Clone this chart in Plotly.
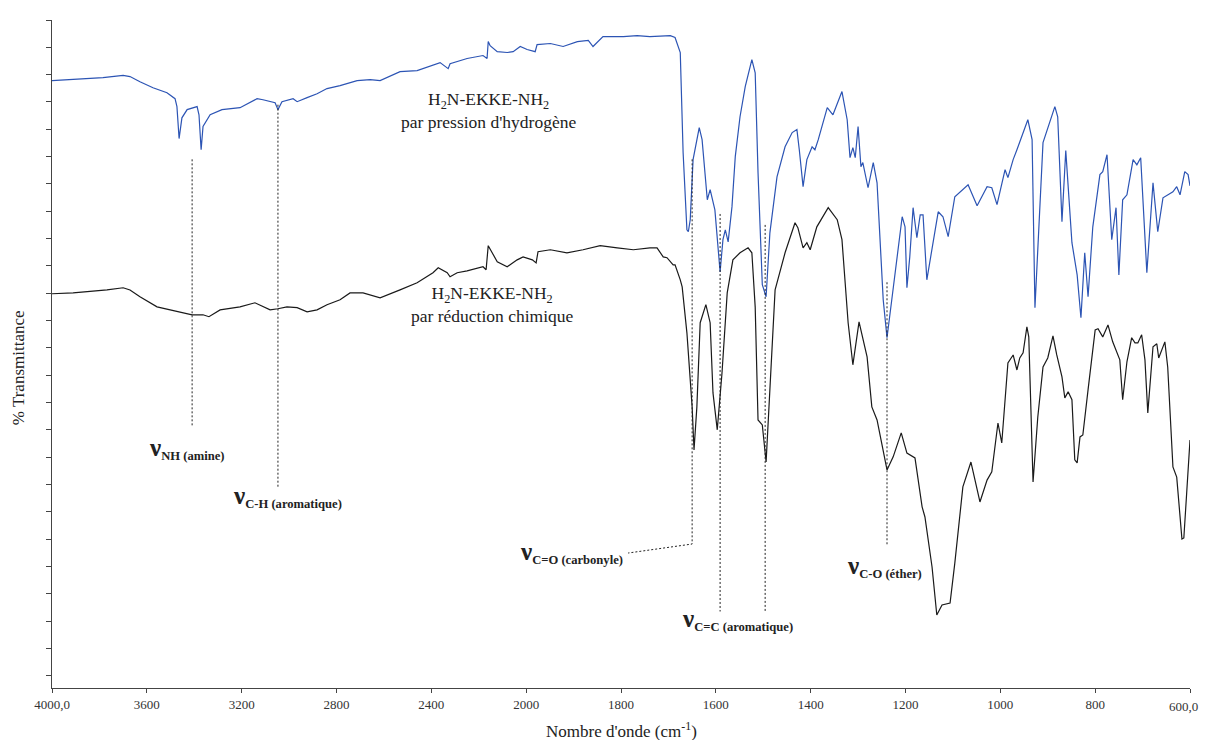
import numpy as np
import plotly.graph_objects as go

# ---------------- data (wavenumber cm-1, arbitrary %T units) ----------------
blue_wn = [4000, 3911, 3840, 3785, 3700, 3671, 3629, 3574, 3515, 3481, 3473, 3464, 3452, 3430, 3388,
           3380, 3371, 3363, 3333, 3283, 3207, 3135, 3110, 3080, 3059, 3047, 3030, 2983, 2966, 2924,
           2882, 2840, 2785, 2713, 2658, 2616, 2532, 2460, 2363, 2329, 2321, 2249, 2182, 2165, 2160,
           2152, 2122, 2080, 2055, 2025, 1998, 1981, 1977, 1949, 1922, 1892, 1869, 1859, 1838, 1795,
           1766, 1739, 1696, 1686, 1675, 1669, 1661, 1658, 1654, 1648, 1635, 1629, 1618, 1612, 1602,
           1591, 1585, 1580, 1574, 1566, 1559, 1549, 1538, 1524, 1517, 1511, 1502, 1494, 1486, 1471,
           1454, 1439, 1429, 1424, 1416, 1408, 1397, 1391, 1384, 1365, 1353, 1334, 1323, 1317, 1311,
           1306, 1300, 1294, 1290, 1279, 1268, 1260, 1247, 1239, 1226, 1207, 1201, 1197, 1191, 1184,
           1176, 1169, 1163, 1155, 1131, 1121, 1110, 1096, 1068, 1049, 1028, 1018, 1007, 990, 984,
           973, 965, 942, 933, 927, 910, 885, 879, 870, 862, 849, 838, 830, 822, 815, 805, 790, 784,
           775, 765, 756, 750, 742, 733, 720, 712, 704, 691, 678, 668, 657, 636, 628, 621, 611, 604, 600]
blue_T = [21.78, 21.82, 21.85, 21.89, 21.97, 21.93, 21.74, 21.52, 21.34, 21.12, 20.83, 19.66, 20.42, 20.72, 20.83,
          20.53, 19.25, 20.10, 20.53, 20.72, 20.79, 21.12, 21.08, 21.01, 20.97, 20.72, 21.01, 21.12, 21.01, 21.16,
          21.30, 21.49, 21.60, 21.78, 21.82, 21.78, 22.11, 22.15, 22.44, 22.22, 22.40, 22.59, 22.70, 22.59, 23.21,
          23.06, 22.84, 22.81, 22.84, 23.03, 22.92, 22.84, 23.10, 23.14, 23.03, 23.21, 23.25, 23.03, 23.39, 23.39,
          23.43, 23.39, 23.43, 23.36, 22.81, 19.14, 16.32, 16.25, 16.69, 18.89, 20.06, 19.62, 17.42, 17.79, 17.05,
          14.78, 15.96, 16.32, 15.88, 17.16, 19.00, 20.46, 21.56, 22.55, 22.07, 18.41, 14.31, 13.87, 16.21, 18.26,
          19.36, 19.88, 19.99, 19.25, 17.90, 18.89, 19.36, 19.25, 19.62, 20.79, 20.53, 21.38, 20.35, 18.96, 19.33,
          18.96, 20.10, 18.63, 18.78, 17.86, 18.78, 18.04, 13.76, 12.37, 14.12, 16.80, 16.43, 14.20, 15.33, 17.13,
          16.03, 16.87, 16.87, 14.49, 16.98, 16.80, 16.07, 17.53, 17.97, 17.20, 17.90, 17.86, 17.24, 18.52, 18.23,
          18.89, 19.25, 20.35, 19.62, 13.47, 19.51, 20.83, 20.46, 16.62, 19.22, 15.85, 14.67, 13.10, 15.48, 13.87,
          16.43, 18.34, 18.45, 19.07, 15.96, 17.13, 14.67, 17.42, 17.60, 18.89, 18.70, 18.96, 14.75, 18.04, 16.25,
          17.49, 17.71, 17.90, 17.60, 18.45, 18.34, 17.93]

black_wn = [4000, 3911, 3768, 3700, 3671, 3629, 3557, 3490, 3409, 3363, 3338, 3291, 3207, 3144, 3080,
            3047, 3009, 2966, 2924, 2882, 2840, 2785, 2743, 2688, 2616, 2532, 2460, 2393, 2371, 2333,
            2321, 2291, 2249, 2182, 2169, 2160, 2144, 2122, 2080, 2038, 2013, 1987, 1979, 1975, 1949,
            1914, 1880, 1844, 1808, 1774, 1739, 1724, 1711, 1703, 1690, 1686, 1675, 1671, 1661, 1650,
            1646, 1640, 1633, 1621, 1612, 1606, 1597, 1587, 1576, 1564, 1549, 1532, 1524, 1517, 1511,
            1502, 1494, 1486, 1475, 1454, 1433, 1427, 1416, 1408, 1401, 1387, 1363, 1344, 1334, 1321,
            1311, 1298, 1281, 1271, 1260, 1239, 1226, 1209, 1197, 1180, 1165, 1159, 1144, 1134, 1123,
            1106, 1096, 1079, 1062, 1043, 1028, 1018, 1005, 997, 990, 984, 973, 965, 959, 952, 944,
            940, 931, 921, 910, 900, 889, 881, 870, 864, 857, 849, 843, 838, 832, 826, 815, 800, 794,
            784, 773, 763, 748, 742, 733, 723, 716, 710, 702, 695, 689, 678, 670, 666, 653, 647, 636,
            628, 617, 613, 607, 600]
black_T = [13.98, 14.01, 14.12, 14.20, 14.12, 13.87, 13.50, 13.36, 13.21, 13.21, 13.14, 13.39, 13.50, 13.65, 13.39,
           13.43, 13.50, 13.47, 13.32, 13.39, 13.58, 13.76, 14.01, 14.01, 13.83, 14.12, 14.38, 14.75, 14.93, 14.75,
           14.60, 14.75, 14.82, 14.97, 14.86, 15.74, 15.48, 15.15, 14.97, 15.22, 15.33, 15.22, 15.11, 15.52, 15.59,
           15.48, 15.59, 15.74, 15.66, 15.59, 15.66, 15.66, 15.33, 15.30, 15.04, 15.04, 14.49, 14.23, 12.55, 9.84,
           8.26, 9.84, 12.92, 13.58, 12.92, 10.35, 9.00, 11.08, 14.01, 15.22, 15.48, 15.66, 15.48, 13.50, 9.36,
           9.18, 7.82, 10.46, 14.12, 15.48, 16.58, 16.40, 15.66, 15.85, 15.59, 16.43, 17.13, 16.69, 15.96, 12.92,
           11.38, 12.95, 11.67, 9.84, 9.36, 7.53, 8.01, 8.89, 8.15, 7.97, 6.18, 5.81, 3.98, 2.22, 2.59,
           2.66, 4.12, 6.91, 7.82, 6.36, 7.16, 7.46, 9.25, 8.52, 10.28, 11.45, 11.74, 11.19, 11.63, 11.82, 12.77,
           12.40, 7.09, 9.47, 11.30, 11.63, 12.44, 11.74, 10.94, 10.17, 10.39, 10.10, 7.90, 7.79, 8.74, 8.81, 10.46, 12.66, 12.70,
           12.40, 12.84, 12.22, 11.56, 10.10, 11.49, 12.37, 12.18, 12.18, 12.48, 11.56, 9.62, 12.04, 12.15, 11.63, 12.22, 11.30, 7.64,
           7.27, 5.00, 5.04, 6.69, 8.63]

tick_wn = [4000, 3600, 3200, 2800, 2400, 2000, 1800, 1600, 1400, 1200, 1000, 800, 600]
tick_text = ["4000,0", "3600", "3200", "2800", "2400", "2000", "1800", "1600",
             "1400", "1200", "1000", "800", "600,0"]

# band assignments: (wavenumber of marked band)
band_nh = 3409
band_ch = 3047
band_co = 1650
band_cc = [1591, 1496]
band_coc = 1239


# spectrometer-style axis: scale doubles below 2000 cm-1
def u(w):
    w = np.asarray(w, dtype=float)
    return np.where(w > 2000, 2000 + (w - 2000) / 2.0, w)


SERIF = "Liberation Serif"
BLUE = "#2c54b4"
BLACK = "#1a1a1a"
TXT = "#222222"

fig = go.Figure()
fig.add_trace(go.Scatter(x=u(blue_wn), y=blue_T, mode="lines",
                         line=dict(color=BLUE, width=1.2), hoverinfo="skip", showlegend=False))
fig.add_trace(go.Scatter(x=u(black_wn), y=black_T, mode="lines",
                         line=dict(color=BLACK, width=1.2), hoverinfo="skip", showlegend=False))

dash_style = dict(color="#222222", width=1, dash="2px,2px")


def vline(w, y0, y1):
    fig.add_trace(go.Scatter(x=u([w, w]), y=[y0, y1], mode="lines", line=dash_style,
                             hoverinfo="skip", showlegend=False))


vline(band_nh, 18.9, 9.1)
vline(band_ch, 20.9, 6.9)
vline(band_cc[0], 16.9, 2.35)
vline(band_cc[1], 16.5, 2.35)
vline(band_coc, 14.4, 4.8)
# carbonyl: vertical then oblique leader
fig.add_trace(go.Scatter(x=u([band_co, band_co, 1785]), y=[18.9, 4.82, 4.49], mode="lines",
                         line=dash_style, hoverinfo="skip", showlegend=False))


def band_label(text, w, t):
    fig.add_annotation(x=float(u(w)), y=t, xref="x", yref="y", showarrow=False,
                       xanchor="left", yanchor="middle",
                       text='<b><span style="font-size:25px">ν</span><sub>' + text + '</sub></b>',
                       font=dict(family=SERIF, size=18, color=TXT))


band_label("NH (amine)", 3600, 8.3)
band_label("C-H (aromatique)", 3245, 6.55)
band_label("C=O (carbonyle)", 2034, 4.5)
band_label("C=C (aromatique)", 1675, 2.05)
band_label("C-O (éther)", 1328, 4.0)

fig.add_annotation(x=float(u(2160)), y=20.68, xref="x", yref="y", showarrow=False,
                   text="H<sub>2</sub>N-EKKE-NH<sub>2</sub><br>par pression d'hydrogène",
                   font=dict(family=SERIF, size=17.5, color=TXT), align="center")
fig.add_annotation(x=float(u(2144)), y=13.6, xref="x", yref="y", showarrow=False,
                   text="H<sub>2</sub>N-EKKE-NH<sub>2</sub><br>par réduction chimique",
                   font=dict(family=SERIF, size=17.5, color=TXT), align="center")

# last tick label kept inside the page edge
fig.add_annotation(x=1.0, y=0.0, xref="paper", yref="paper", showarrow=False,
                   xanchor="right", yanchor="middle", xshift=10, yshift=-18,
                   text=tick_text[-1], font=dict(family=SERIF, size=13, color="#333333"))

# axis titles
fig.add_annotation(x=0.5, y=-0.063, xref="paper", yref="paper", showarrow=False,
                   xanchor="center", yanchor="middle",
                   text="Nombre d'onde (cm<sup>-1</sup>)",
                   font=dict(family=SERIF, size=17, color=TXT))
fig.add_annotation(x=-0.030, y=0.48, xref="paper", yref="paper", showarrow=False,
                   xanchor="center", yanchor="middle",
                   text="% Transmittance", textangle=-90,
                   font=dict(family=SERIF, size=17, color=TXT))

# page body adds an 8 px offset; plot area lands at 52..1190 x 20..688 in the page
fig.update_layout(
    width=1192, height=732,
    margin=dict(l=44, r=10, t=12, b=52, autoexpand=False),
    paper_bgcolor="white", plot_bgcolor="white",
    font=dict(family=SERIF, size=13, color="#333333"),
    showlegend=False,
    xaxis=dict(range=[float(u(4000)), 600], tickvals=list(u(tick_wn)),
               ticktext=tick_text[:-1] + [""],
               automargin=False, ticklabeloverflow="allow",
               showgrid=False, zeroline=False, showline=True, linecolor="#444444", linewidth=1,
               ticks="outside", ticklen=4, tickcolor="#444444",
               tickfont=dict(family=SERIF, size=13, color="#333333")),
    yaxis=dict(range=[-0.45, 24.0], tickvals=list(range(0, 25)), showticklabels=False,
               automargin=False,
               showgrid=False, zeroline=False, showline=True, linecolor="#444444", linewidth=1,
               ticks="outside", ticklen=5, tickcolor="#444444"),
)

fig.write_html("out.html")
